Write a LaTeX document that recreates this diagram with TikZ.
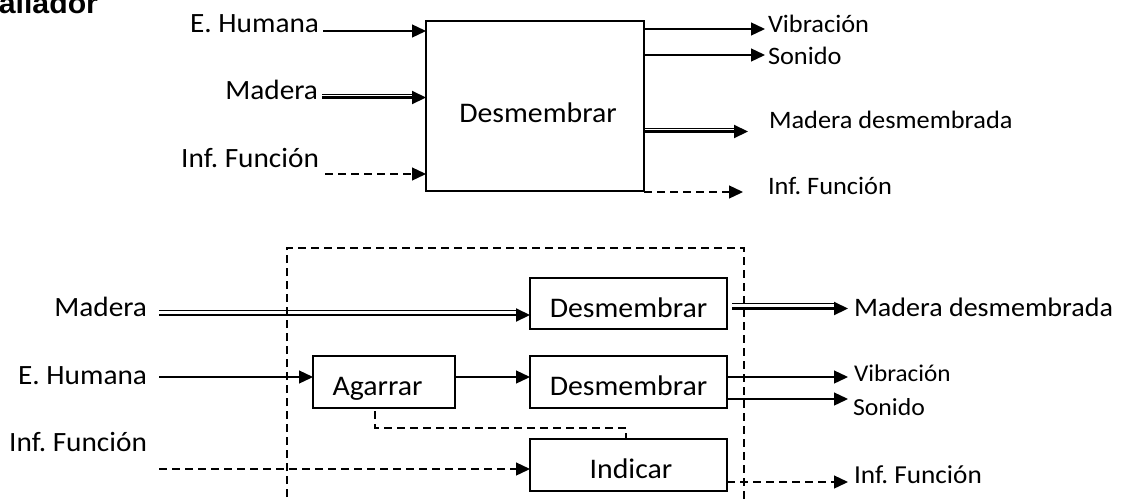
\documentclass[tikz,border=0pt]{standalone}
\usepackage{fontspec}
\setmainfont{Carlito}[FakeStretch=1.05]
\newfontfamily\headfont{Liberation Sans}[FakeStretch=1.05]
\usetikzlibrary{arrows.meta}
\frenchspacing

\tikzset{
  every node/.style={inner sep=0pt, outer sep=0pt},
  box/.style={draw, line width=1.3pt, minimum width=#1},
  box/.default=197pt,
  lbl/.style={font=\fontsize{27.9}{32}\selectfont},
  boxtxt/.style={font=\fontsize{28.4}{32}\selectfont},
  sml/.style={font=\fontsize{25.1}{29}\selectfont},
  tip/.style={-{Triangle[length=14pt,width=13pt]}},
  arr/.style={line width=1.3pt, tip},
  dline/.style={line width=1.3pt, dash pattern=on 8pt off 5pt},
  darr/.style={dline, tip},
  % thin-thick double flow: thick line carries the tip, thin line runs above it
  thickarr/.style={line width=2.1pt, tip},
  thinpart/.style={line width=1pt, shorten >=14pt},
}

\begin{document}
\begin{tikzpicture}[x=1pt, y=-1pt]
\useasboundingbox[fill=white] (0,0) rectangle (1140,501);

% heading
\node[anchor=base east, font=\headfont\bfseries\fontsize{28.8}{32}\selectfont] (head) at (98,13) {allador};

% ---------- black-box view ----------
\node[box=218pt, minimum height=170pt] (T) at (535,106) {};
\node[boxtxt, anchor=base] (Tt) at (538,122) {Desmembrar};

\coordinate (eh1) at (323,31);
\coordinate (md1) at (322,97.5);
\coordinate (if1) at (325,174);
\node[lbl, anchor=base east] (eh1t) at (319,32) {E. Humana};
\node[lbl, anchor=base east] (md1t) at (318,99) {Madera};
\node[lbl, anchor=base east] (if1t) at (319,167) {Inf. Función};

\draw[arr] (eh1) -- (eh1 -| T.west);
\draw[thinpart] ([yshift=3.5pt]md1) -- ([yshift=3.5pt]md1 -| T.west);
\draw[thickarr] (md1) -- (md1 -| T.west);
\draw[darr] (if1) -- (if1 -| T.west);

\coordinate (vib1) at (765,29);
\coordinate (son1) at (765,55);
\coordinate (mdo1) at (748,131.5);
\coordinate (ifo1) at (743,192);
\draw[arr] (vib1 -| T.east) -- (vib1);
\draw[arr] (son1 -| T.east) -- (son1);
\draw[thinpart] ([yshift=3.5pt]mdo1 -| T.east) -- ([yshift=3.5pt]mdo1);
\draw[thickarr] (mdo1 -| T.east) -- (mdo1);
\draw[darr] (ifo1 -| T.east) -- (ifo1);

\node[sml, anchor=base west] (vib1t) at (768,32) {Vibración};
\node[sml, anchor=base west] (son1t) at (768,64) {Sonido};
\node[sml, anchor=base west] (mdo1t) at (769,128) {Madera desmembrada};
\node[sml, anchor=base west] (ifo1t) at (768,194) {Inf. Función};

% ---------- decomposed view ----------
\draw[dline] (287,510) -- (287,248) -- (744,248) -- (744,510);

\node[box, minimum height=51pt] (d1) at (628.5,303.5) {};
\node[box, minimum height=52pt] (d2) at (628.5,382) {};
\node[box=142pt, minimum height=52pt] (ag) at (384,382) {};
\node[box, minimum height=52pt] (ind) at (628.5,465) {};
\node[boxtxt, anchor=base] (d1t) at (628.5,317) {Desmembrar};
\node[boxtxt, anchor=base] (d2t) at (628.5,395) {Desmembrar};
\node[boxtxt, anchor=base] (agt) at (377.5,395) {Agarrar};
\node[boxtxt, anchor=base] (indt) at (631,478) {Indicar};

\coordinate (md2) at (159,315);
\coordinate (eh2) at (159,377);
\coordinate (if2) at (159,469);
\node[lbl, anchor=base east] (md2t) at (147,316) {Madera};
\node[lbl, anchor=base east] (eh2t) at (147,384) {E. Humana};
\node[lbl, anchor=base east] (if2t) at (147,451) {Inf. Función};

\draw[thinpart] ([yshift=5pt]md2) -- ([yshift=5pt]md2 -| d1.west);
\draw[thickarr] (md2) -- (md2 -| d1.west);
\draw[arr] (eh2) -- (eh2 -| ag.west);
\draw[arr] (ag.east |- eh2) -- (eh2 -| d2.west);
\draw[darr] (if2) -- (if2 -| ind.west);
\draw[dline] ([shift={(-9pt,-3pt)}]ag.south) |- ([shift={(-2.5pt,11pt)}]ind.north) -- ([xshift=-2.5pt]ind.north);

\coordinate (mdo2) at (848,308.5);
\coordinate (vib2) at (848,377);
\coordinate (son2) at (848,399);
\coordinate (ifo2) at (848,482);
\draw[thinpart] ([shift={(5pt,5pt)}]mdo2 -| d1.east) -- ([yshift=5pt]mdo2);
\draw[thickarr] ([xshift=5pt]mdo2 -| d1.east) -- (mdo2);
\draw[arr] (vib2 -| d2.east) -- (vib2);
\draw[arr] (son2 -| d2.east) -- (son2);
\draw[darr] (ifo2 -| ind.east) -- (ifo2);

\node[anchor=base west, font=\fontsize{26.7}{30}\selectfont] (mdo2t) at (854,316.7) {Madera desmembrada};
\node[anchor=base west, font=\fontsize{24}{28}\selectfont] (vib2t) at (854,381.7) {Vibración};
\node[anchor=base west, font=\fontsize{24.5}{28}\selectfont] (son2t) at (853,415) {Sonido};
\node[anchor=base west, font=\fontsize{25.9}{30}\selectfont] (ifo2t) at (854,483) {Inf. Función};
\end{tikzpicture}
\end{document}
